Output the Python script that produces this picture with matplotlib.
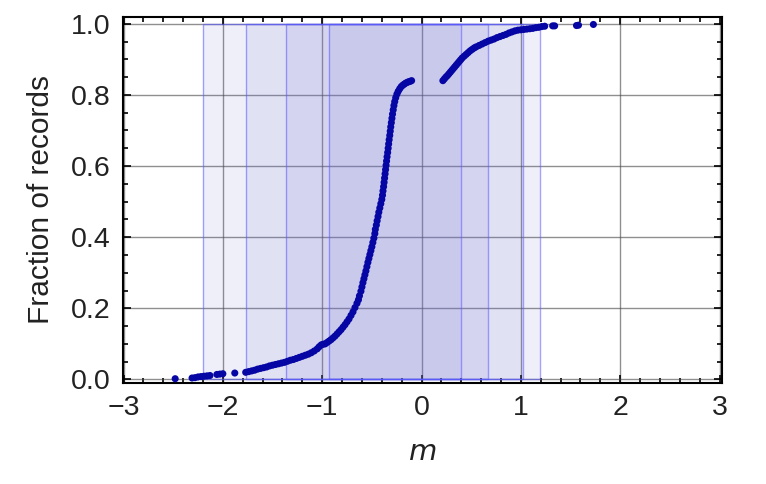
import matplotlib.pyplot as plt
from matplotlib.patches import Rectangle
from matplotlib.ticker import MultipleLocator

plt.rcParams['font.family'] = ['Liberation Sans', 'DejaVu Sans']

# nested intervals (shaded boxes), outermost first
box_lo = [-2.197, -1.77, -1.364, -0.93]
box_hi = [1.19, 1.02, 0.67, 0.402]

# cumulative fraction of records vs m
m_vals = [
    -2.48, -2.31, -2.28, -2.25, -2.22, -2.19, -2.16, -2.13, -2.06, -2.03, -2.00, -1.88,
    -1.77, -1.74, -1.71, -1.68, -1.65, -1.62, -1.59, -1.56, -1.53, -1.50,
    -1.47, -1.44, -1.41, -1.38, -1.35, -1.32, -1.29, -1.26, -1.23, -1.20,
    -1.17, -1.14, -1.11, -1.08, -1.05, -1.03, -1.01, -0.99, -0.97, -0.95,
    -0.93, -0.91, -0.89, -0.87, -0.85, -0.83, -0.81, -0.79, -0.77, -0.75,
    -0.73, -0.71, -0.69, -0.67, -0.65, -0.635,
    -0.625, -0.61, -0.60, -0.59, -0.58, -0.57, -0.56, -0.55, -0.54, -0.53,
    -0.52, -0.51, -0.50, -0.49, -0.48, -0.47, -0.465, -0.455, -0.447, -0.438,
    -0.43, -0.42, -0.41, -0.40, -0.393, -0.388, -0.382, -0.377, -0.372, -0.367,
    -0.362, -0.357, -0.352, -0.347, -0.341, -0.336, -0.331, -0.326, -0.320, -0.315,
    -0.310, -0.304, -0.298, -0.292, -0.285, -0.278, -0.270, -0.260, -0.248, -0.235,
    -0.220, -0.205, -0.19, -0.175, -0.16, -0.145, -0.13, -0.115, -0.10,
    0.215, 0.23, 0.245, 0.26, 0.275, 0.29, 0.305, 0.32, 0.335, 0.35,
    0.365, 0.38, 0.395, 0.41, 0.43, 0.45, 0.47, 0.49, 0.51, 0.53,
    0.55, 0.58, 0.61, 0.64, 0.67, 0.70, 0.73, 0.76, 0.79, 0.82,
    0.85, 0.88, 0.91, 0.94, 0.97, 1.00, 1.03, 1.06, 1.09, 1.12,
    1.15, 1.18, 1.21, 1.24, 1.32, 1.34, 1.56, 1.58, 1.73,
]
frac = [
    0.002, 0.004, 0.005, 0.007, 0.008, 0.009, 0.010, 0.011, 0.014, 0.015, 0.016, 0.018,
    0.020, 0.022, 0.024, 0.026, 0.029, 0.031, 0.033, 0.035, 0.038, 0.040,
    0.042, 0.044, 0.046, 0.048, 0.051, 0.054, 0.056, 0.059, 0.062, 0.065,
    0.068, 0.071, 0.075, 0.080, 0.086, 0.092, 0.097, 0.099, 0.100, 0.104,
    0.108, 0.112, 0.117, 0.122, 0.128, 0.134, 0.140, 0.147, 0.154, 0.162,
    0.170, 0.180, 0.190, 0.202, 0.214, 0.224,
    0.235, 0.248, 0.260, 0.272, 0.283, 0.294, 0.305, 0.317, 0.329, 0.340,
    0.351, 0.362, 0.373, 0.385, 0.397, 0.410, 0.422, 0.434, 0.446, 0.458,
    0.470, 0.482, 0.494, 0.506, 0.518, 0.530, 0.542, 0.554, 0.566, 0.578,
    0.590, 0.602, 0.614, 0.626, 0.638, 0.650, 0.662, 0.674, 0.686, 0.698,
    0.710, 0.722, 0.734, 0.746, 0.758, 0.770, 0.781, 0.792, 0.802, 0.810,
    0.817, 0.823, 0.827, 0.830, 0.833, 0.835, 0.837, 0.838, 0.840,
    0.840, 0.845, 0.850, 0.854, 0.859, 0.864, 0.869, 0.874, 0.879, 0.884,
    0.889, 0.894, 0.899, 0.904, 0.909, 0.914, 0.919, 0.924, 0.928, 0.932,
    0.935, 0.939, 0.943, 0.947, 0.951, 0.954, 0.957, 0.961, 0.964, 0.967,
    0.970, 0.974, 0.977, 0.980, 0.982, 0.983, 0.984, 0.985, 0.986, 0.987,
    0.989, 0.990, 0.992, 0.993, 0.994, 0.994, 0.995, 0.996, 0.998,
]

fig = plt.figure(figsize=(7.66, 4.84), dpi=100)
ax = fig.add_axes([0.1606, 0.2087, 0.7820, 0.7562])

# shaded nested boxes
for lo, hi in zip(box_lo, box_hi):
    ax.add_patch(Rectangle((lo, 0), hi - lo, 1, facecolor='#7070d0', alpha=0.11,
                           edgecolor='none', zorder=1))
    ax.add_patch(Rectangle((lo, 0), hi - lo, 1, facecolor='none',
                           edgecolor=(0.35, 0.35, 1.0, 0.55), lw=1, zorder=2))

ax.scatter(m_vals, frac, s=26, color='#0606a4', edgecolors='none', zorder=4)

ax.set_xlim(-3.005, 3.025)
ax.set_ylim(-0.01, 1.019)
ax.set_xticks([-3, -2, -1, 0, 1, 2, 3])
ax.set_yticks([0.0, 0.2, 0.4, 0.6, 0.8, 1.0])
ax.set_yticklabels(['0.0', '0.2', '0.4', '0.6', '0.8', '1.0'])
ax.xaxis.set_minor_locator(MultipleLocator(0.2))
ax.yaxis.set_minor_locator(MultipleLocator(0.05))
ax.grid(True, which='major', color='#444444', alpha=0.6, lw=1, zorder=0)
ax.set_axisbelow(True)

ax.tick_params(which='both', direction='in', top=True, right=True, width=1.2,
               labelsize=20.5, labelcolor='#222222')
ax.tick_params(which='major', length=6, pad=9)
ax.tick_params(which='minor', length=3.5)
for sp in ax.spines.values():
    sp.set_linewidth(1.5)

ax.set_xlabel('$m$', fontsize=21, labelpad=12, color='#222222')
ax.set_ylabel('Fraction of records', fontsize=21.5, labelpad=11, color='#222222')

fig.savefig('out.png', dpi=100)
